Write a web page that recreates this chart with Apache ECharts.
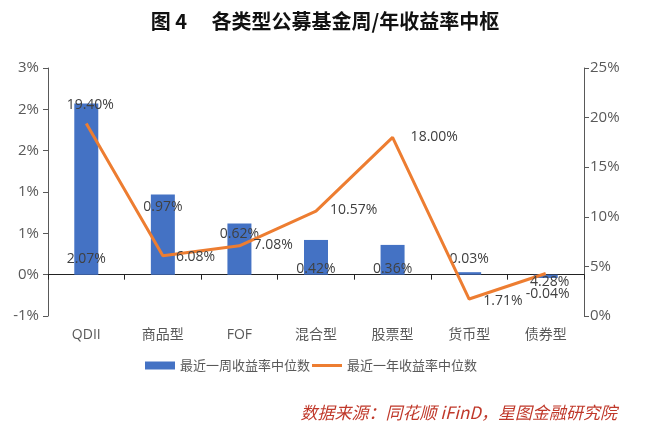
<!DOCTYPE html>
<html><head><meta charset="utf-8">
<script src="https://cdn.jsdelivr.net/npm/echarts@6/dist/echarts.min.js"></script>
<style>html,body{margin:0;padding:0;background:#fff}#c{width:650px;height:430px}</style>
</head><body><div id="c"></div>
<script>
var categories = ['QDII','商品型','FOF','混合型','股票型','货币型','债券型'];
var weekMedian = [2.07, 0.97, 0.62, 0.42, 0.36, 0.03, -0.04];
var yearMedian = [19.40, 6.08, 7.08, 10.57, 18.00, 1.71, 4.28];
var seriesNames = ['最近一周收益率中位数','最近一年收益率中位数'];
var titleText = '图 4\u3000 各类型公募基金周/年收益率中枢';
var sourceText = '数据来源：同花顺 iFinD，星图金融研究院';

var barLabelPos = [
  {position:'insideBottom', offset:[0,-4]},
  {position:'insideTop', offset:[0,1]},
  {position:'insideTop', offset:[0,-1]},
  {position:'insideBottom', offset:[0,6]},
  {position:'insideBottom', offset:[0,6]},
  {position:'top', offset:[0,-1]},
  {position:'bottom', offset:[2,4]}
];
var lineLabelPos = [
  {position:'top', offset:[4,-6]},
  {position:'right', offset:[8,1]},
  {position:'right', offset:[9,-1]},
  {position:'right', offset:[9,-1]},
  {position:'right', offset:[13,0]},
  {position:'right', offset:[9,2]},
  {position:'bottom', offset:[4,-4]}
];
var labelStyle = {color:'#404040', fontSize:14, fontFamily:'Open Sans, Noto Sans, sans-serif'};

var chart = echarts.init(document.getElementById('c'), null, {renderer:'canvas'});
chart.setOption({
  animation:false,
  backgroundColor:'#fff',
  title:[{text:titleText, left:'center', top:6, textStyle:{fontSize:20, fontWeight:'bold', color:'#111', fontFamily:'Noto Sans CJK SC'}},
         {text:sourceText, right:28, top:399, textStyle:{fontSize:17, fontWeight:'normal', fontStyle:'italic', color:'#C0392B', fontFamily:'Noto Sans CJK SC'}}],
  legend:{bottom:53, left:140, itemGap:2, itemWidth:30, itemHeight:8,
    textStyle:{color:'#595959', fontSize:13, fontFamily:'Noto Sans CJK SC'},
    data:[{name:seriesNames[0], icon:'rect'},{name:seriesNames[1], icon:'path://M0,2.5H30V5.5H0Z', itemStyle:{color:'#ED7D31'}}]},
  grid:{left:48, right:66, top:68, bottom:114},
  xAxis:[
    {type:'category', data:categories, position:'bottom', axisLine:{show:false, onZero:false}, axisTick:{show:false},
     axisLabel:{color:'#595959', fontSize:14, margin:12, fontFamily:'Open Sans, Noto Sans CJK SC'}},
    {type:'category', data:categories, position:'bottom', axisLine:{show:true, onZero:true, onZeroAxisIndex:0, lineStyle:{color:'#222', width:1}},
     axisTick:{show:true, length:5, lineStyle:{color:'#222'}}, axisLabel:{show:false}}
  ],
  yAxis:[
    {type:'value', min:-0.5, max:2.5, interval:0.5, splitLine:{show:false},
     axisLine:{show:true, lineStyle:{color:'#595959'}}, axisTick:{show:true, length:5, lineStyle:{color:'#595959'}},
     axisLabel:{color:'#595959', fontSize:15, margin:9, formatter:function(v){return v.toFixed(0)+'%';}, fontFamily:'Open Sans, Noto Sans, sans-serif'}},
    {type:'value', min:0, max:25, interval:5, splitLine:{show:false},
     axisLine:{show:true, lineStyle:{color:'#595959'}}, axisTick:{show:true, length:5, lineStyle:{color:'#595959'}},
     axisLabel:{color:'#595959', fontSize:15, margin:6, formatter:function(v){return v+'%';}, fontFamily:'Open Sans, Noto Sans, sans-serif'}}
  ],
  series:[
    {name:seriesNames[0], type:'bar', xAxisIndex:0, yAxisIndex:0, barWidth:24,
     itemStyle:{color:'#4472C4'},
     data:weekMedian.map(function(v,i){return {value:v, label:Object.assign({show:true, formatter:function(p){return p.value.toFixed(2)+'%';}}, labelStyle, barLabelPos[i])};})},
    {name:seriesNames[1], type:'line', xAxisIndex:0, yAxisIndex:1, symbol:'circle', symbolSize:0.1, showSymbol:true, z:3,
     lineStyle:{color:'#ED7D31', width:3}, itemStyle:{color:'#ED7D31'},
     data:yearMedian.map(function(v,i){return {value:v, label:Object.assign({show:true, formatter:function(p){return p.value.toFixed(2)+'%';}}, labelStyle, lineLabelPos[i])};})}
  ]
});
</script></body></html>
